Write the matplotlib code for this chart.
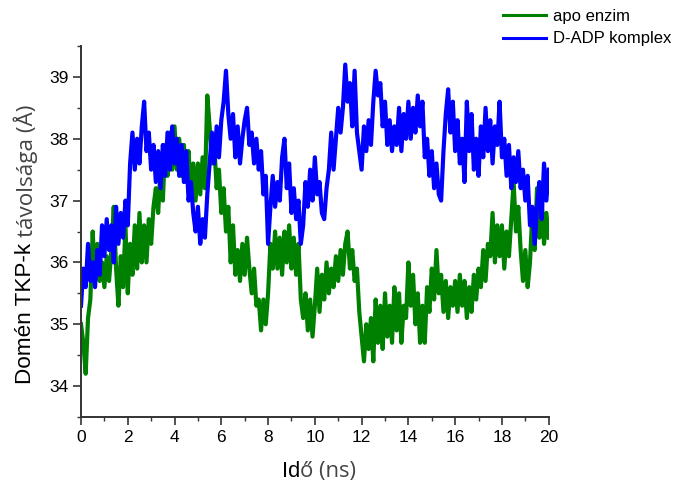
import numpy as np
import matplotlib
matplotlib.use('Agg')
from matplotlib import pyplot as plt
from matplotlib.ticker import MultipleLocator

plt.rcParams['font.family'] = ['Liberation Sans', 'DejaVu Sans']

# time axis (ns), one value every 0.1 ns
time_ns = np.round(np.arange(0, 20.01, 0.1), 1)

# distance values (Angstrom)
apo = [35.0, 34.7, 34.2, 35.1, 35.4, 36.5, 35.7, 36.3, 35.7, 36.0,
       35.6, 36.1, 35.7, 36.2, 36.9, 35.9, 35.3, 36.1, 35.6, 36.6,
       35.5, 36.3, 35.8, 36.6, 35.9, 36.8, 36.0, 36.6, 36.0, 36.7,
       36.3, 36.9, 37.2, 36.8, 37.5, 37.0, 37.9, 37.4, 38.1, 37.5,
       38.2, 37.5, 38.0, 37.4, 37.9, 37.3, 37.8, 37.1, 37.6, 37.0,
       37.6, 37.1, 37.7, 37.2, 38.7, 38.2, 37.6, 37.9, 37.2, 37.5,
       36.8, 37.2, 36.5, 36.9, 36.0, 36.6, 35.8, 36.2, 35.7, 36.3,
       35.8, 36.4, 35.9, 35.5, 35.9, 35.3, 35.4, 34.9, 35.4, 35.0,
       35.5, 36.3, 35.9, 36.5, 35.9, 36.4, 35.8, 36.5, 36.0, 36.6,
       35.9, 36.4, 35.8, 36.3, 35.4, 35.1, 35.5, 34.9, 35.4, 34.8,
       35.3, 35.9, 35.2, 35.8, 35.4, 36.0, 35.5, 35.9, 35.6, 36.1,
       35.7, 36.2, 35.8, 36.3, 36.5, 35.9, 36.2, 35.7, 35.9, 35.2,
       34.8, 34.4, 35.0, 34.6, 35.1, 34.4, 35.4, 34.7, 35.3, 34.6,
       35.5, 34.8, 35.3, 34.7, 35.6, 34.9, 35.5, 34.7, 35.3, 35.1,
       36.0, 35.3, 35.8, 35.0, 35.5, 34.7, 35.3, 34.7, 35.6, 35.2,
       35.9, 35.4, 36.2, 35.5, 35.8, 35.2, 35.7, 35.1, 35.6, 35.3,
       35.7, 35.2, 35.8, 35.3, 35.7, 35.1, 35.6, 35.2, 35.8, 35.4,
       35.9, 35.6, 36.2, 35.7, 36.3, 36.1, 36.8, 36.0, 36.6, 36.1,
       36.6, 35.9, 36.5, 36.1, 36.7, 37.3, 36.5, 36.9, 36.2, 35.7,
       36.2, 35.6, 36.0, 36.8, 36.2, 37.2, 36.4, 37.0, 36.3, 36.8,
       36.4]

dadp = [35.3, 35.9, 35.6, 36.3, 35.7, 36.0, 35.6, 36.2, 35.8, 36.6,
        36.1, 36.7, 36.2, 36.6, 36.0, 36.9, 36.3, 36.8, 36.4, 37.0,
        36.6, 37.6, 38.1, 37.5, 38.0, 37.6, 38.2, 38.6, 37.8, 38.1,
        37.5, 37.9, 37.3, 37.8, 37.2, 37.9, 37.4, 38.1, 37.5, 38.2,
        37.6, 38.0, 37.4, 37.9, 37.3, 37.8, 37.0, 37.3, 36.8, 36.5,
        36.9, 36.3, 36.7, 36.4, 37.1, 37.6, 38.1, 37.6, 38.2, 37.7,
        38.3, 38.6, 39.1, 38.4, 38.0, 38.4, 37.7, 38.2, 37.6, 38.0,
        38.3, 38.5, 37.9, 38.1, 37.6, 38.0, 37.5, 37.8, 37.1, 37.4,
        36.3, 36.9, 37.4, 36.9, 37.3, 37.0, 37.7, 38.0, 37.2, 37.6,
        36.8, 37.2, 36.7, 37.0, 36.3, 36.6, 37.3, 36.9, 37.5, 37.0,
        37.7, 37.1, 37.3, 36.8, 36.7, 37.2, 37.5, 38.1, 37.5, 38.0,
        38.5, 38.1, 38.5, 39.2, 38.6, 38.9, 38.2, 39.1, 38.1, 37.8,
        37.5, 38.2, 37.8, 38.3, 37.9, 38.6, 39.1, 38.7, 38.9, 38.2,
        38.6, 37.9, 38.3, 37.8, 38.2, 37.9, 38.5, 37.8, 38.4, 38.0,
        38.6, 38.0, 38.5, 38.1, 38.7, 38.2, 38.6, 37.7, 38.0, 37.4,
        37.8, 37.2, 37.6, 37.1, 37.0, 37.8, 38.4, 38.8, 38.1, 38.6,
        37.8, 38.3, 37.6, 38.0, 37.3, 38.6, 37.8, 38.4, 37.5, 38.0,
        37.4, 38.2, 37.7, 38.5, 37.8, 38.3, 37.6, 38.2, 37.9, 38.6,
        37.7, 38.0, 37.4, 37.9, 37.2, 37.7, 37.3, 37.8, 37.2, 37.5,
        37.0, 37.4, 36.6, 36.9, 36.3, 36.9, 37.3, 36.7, 37.6, 37.0,
        37.5]

labels = ['apo enzim', 'D-ADP komplex']
W, H = 688, 483

fig = plt.figure(figsize=(W / 100, H / 100), dpi=100)
ax = fig.add_axes([81 / W, 1 - 417 / H, (548.7 - 81) / W, (417 - 46) / H])

ax.plot(time_ns, apo, color='#008000', lw=3.0, label=labels[0])
ax.plot(time_ns, dadp, color='#0000ff', lw=3.0, label=labels[1])

ax.set_xlim(0, 20)
ax.set_ylim(33.5, 39.5)
ax.xaxis.set_major_locator(MultipleLocator(2))
ax.xaxis.set_minor_locator(MultipleLocator(1))
ax.yaxis.set_minor_locator(MultipleLocator(0.5))
ax.set_yticks([34, 35, 36, 37, 38, 39])

for s in ['top', 'right']:
    ax.spines[s].set_visible(False)
for s in ['left', 'bottom']:
    ax.spines[s].set_color('#333333')
    ax.spines[s].set_linewidth(1.4)
ax.tick_params(which='major', direction='out', length=6, width=1.2,
               color='#333333', labelsize=12.5, pad=3)
ax.tick_params(which='minor', direction='out', length=3, width=1.0,
               color='#333333')

leg = fig.legend(loc='upper left', bbox_to_anchor=(488 / W, 1 + 6 / H),
                 frameon=False, fontsize=12, handlelength=2.6,
                 handletextpad=0.4, labelspacing=0.45)
for ln in leg.get_lines():
    ln.set_linewidth(2.2)

# axis labels, two fonts each as in the original
t1 = fig.text(26 / W, 1 - 384 / H, 'Domén TKP-k ', rotation=90,
              ha='center', va='bottom', fontsize=16.2)
ax.annotate('távolsága (Å)', xy=(0.5, 1), xycoords=t1, rotation=90,
            ha='center', va='bottom', fontsize=16.2, family='Open Sans',
            color='#444444')

t2 = fig.text(282 / W, 1 - 477 / H, 'Id', ha='left', va='baseline',
              fontsize=15.8)
ax.annotate('ő (ns)', xy=(1, 0), xycoords=t2, xytext=(0, 0),
            textcoords='offset points', ha='left', va='bottom',
            fontsize=15.8, family='Open Sans', color='#444444')

fig.savefig('out.png', dpi=100)
